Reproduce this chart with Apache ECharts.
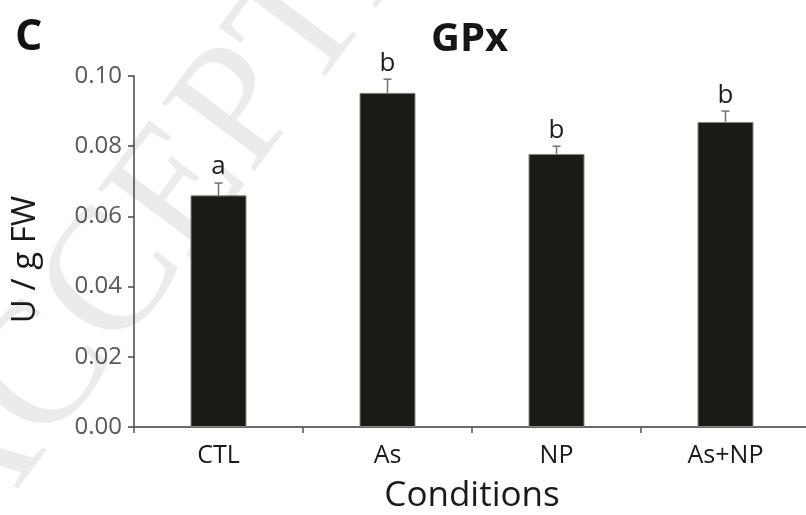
<!DOCTYPE html>
<html>
<head>
<meta charset="utf-8">
<script src="https://cdn.jsdelivr.net/npm/echarts@6/dist/echarts.min.js"></script>
<style>
  html, body { margin: 0; padding: 0; background: #fff; }
  #chart { width: 806px; height: 515px; }
</style>
</head>
<body>
<div id="chart"></div>
<script>
// GPx activity per treatment (mean ± error), with significance letters
const categories = ['CTL', 'As', 'NP', 'As+NP'];
const means = [0.066, 0.0952, 0.0778, 0.0869];
const errors = [0.0035, 0.0039, 0.0022, 0.0031];
const letters = ['a', 'b', 'b', 'b'];
const yTicks = [0, 0.02, 0.04, 0.06, 0.08, 0.10];

const FONT = '"Open Sans", "DejaVu Sans", sans-serif';
const chart = echarts.init(document.getElementById('chart'), null, { renderer: 'canvas' });

const errorData = means.map((m, i) => [i, m, errors[i], letters[i]]);

chart.setOption({
  animation: false,
  backgroundColor: '#ffffff',
  graphic: [
    {
      type: 'text',
      z: -10,
      x: 5, y: 575,
      rotation: 0.93,
      style: {
        text: 'ACCEPTED MANUSCRIPT',
        font: '175px "Liberation Serif", "DejaVu Serif", serif',
        fill: '#ebebeb',
        textVerticalAlign: 'bottom'
      }
    },
    {
      type: 'text',
      left: 15, top: 16,
      style: {
        text: 'C',
        font: 'bold 43px ' + FONT,
        fill: '#111'
      }
    }
  ],
  title: {
    text: 'GPx',
    left: 426, top: 15,
    textStyle: { fontFamily: FONT, fontWeight: 'bold', fontSize: 40, color: '#161616' }
  },
  grid: { left: 134, top: 76, bottom: 88, width: 676, containLabel: false, outerBoundsMode: 'none' },
  xAxis: {
    type: 'category',
    data: categories,
    name: 'Conditions',
    nameLocation: 'middle',
    nameGap: 52,
    nameTextStyle: { fontFamily: FONT, fontSize: 35, color: '#1a1a1a' },
    axisLine: { lineStyle: { color: '#6f6a66', width: 2 } },
    axisTick: { show: true, inside: false, length: 6, lineStyle: { color: '#555', width: 1.5 } },
    axisLabel: { fontFamily: FONT, fontSize: 25, color: '#1a1a1a', margin: 16 },
    splitLine: { show: false }
  },
  yAxis: {
    type: 'value',
    min: yTicks[0],
    max: yTicks[yTicks.length - 1],
    interval: 0.02,
    name: 'U / g FW',
    nameLocation: 'middle',
    nameRotate: 90,
    nameGap: 92,
    nameTextStyle: { fontFamily: FONT, fontSize: 33, color: '#1a1a1a', padding: [0, 16, 0, 0] },
    axisLine: { show: true, lineStyle: { color: '#4a4644', width: 1.5 } },
    axisTick: { show: true, inside: false, length: 6, lineStyle: { color: '#4a4644', width: 1.5 } },
    axisLabel: {
      fontFamily: FONT, fontSize: 24, color: '#5e5753', margin: 12,
      formatter: v => v.toFixed(2)
    },
    splitLine: { show: false }
  },
  series: [
    {
      type: 'bar',
      data: means,
      barWidth: 56,
      itemStyle: { color: '#1c1a17', borderColor: '#8a857f', borderWidth: 1 },
      z: 2
    },
    {
      type: 'custom',
      data: errorData,
      z: 3,
      renderItem: (params, api) => {
        const x = api.value(0);
        const m = api.value(1);
        const e = api.value(2);
        const base = api.coord([x, m]);
        const top = api.coord([x, m + e]);
        const cap = 4;
        return {
          type: 'group',
          children: [
            {
              type: 'line',
              shape: { x1: base[0], y1: base[1], x2: top[0], y2: top[1] },
              style: { stroke: '#77706b', lineWidth: 1.5 }
            },
            {
              type: 'line',
              shape: { x1: top[0] - cap, y1: top[1], x2: top[0] + cap, y2: top[1] },
              style: { stroke: '#77706b', lineWidth: 1.5 }
            },
            {
              type: 'text',
              x: top[0], y: top[1] - 3,
              style: {
                text: letters[params.dataIndex],
                font: '26px ' + FONT,
                fill: '#1e1e1e',
                textAlign: 'center',
                textVerticalAlign: 'bottom'
              }
            }
          ]
        };
      }
    }
  ]
});
</script>
</body>
</html>
